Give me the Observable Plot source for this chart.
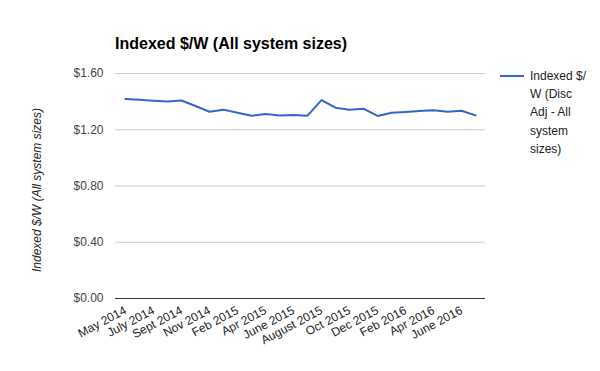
<!DOCTYPE html>
<html>
<head>
<meta charset="utf-8">
<script src="https://cdn.jsdelivr.net/npm/d3@7"></script>
<script src="https://cdn.jsdelivr.net/npm/@observablehq/plot@0.6"></script>
<style>
  html, body { margin: 0; padding: 0; background: #fff; }
  #wrap { position: relative; width: 600px; height: 371px; font-family: "Liberation Sans", Arial, sans-serif; }
  #title { position: absolute; left: 115px; top: 35px; font-size: 16px; font-weight: bold; color: #000; white-space: nowrap; }
  #ylabel { position: absolute; left: 37px; top: 190px; transform: translate(-50%, -50%) rotate(-90deg); font-size: 12px; font-style: italic; color: #222; white-space: nowrap; }
  #legend { position: absolute; left: 500px; top: 67px; font-size: 12px; color: #222; }
  #legend .sw { position: absolute; left: 0; top: 8px; width: 24px; height: 2px; background: #3366cc; }
  #legend .tx { position: absolute; left: 30px; top: 0; width: 70px; line-height: 18.2px; }
  svg { position: absolute; left: 0; top: 0; }
</style>
</head>
<body>
<div id="wrap">
  <div id="title">Indexed $/W (All system sizes)</div>
  <div id="ylabel">Indexed $/W (All system sizes)</div>
  <div id="legend"><div class="sw"></div><div class="tx">Indexed $/<br>W (Disc<br>Adj - All<br>system<br>sizes)</div></div>
</div>
<script>
const months = ["May 2014","June 2014","July 2014","Aug 2014","Sept 2014","Oct 2014","Nov 2014","Dec 2014","Feb 2015","Mar 2015","Apr 2015","May 2015","June 2015","July 2015","August 2015","Sept 2015","Oct 2015","Nov 2015","Dec 2015","Jan 2016","Feb 2016","Mar 2016","Apr 2016","May 2016","June 2016","July 2016"];
const values = [1.418,1.413,1.406,1.401,1.408,1.369,1.328,1.343,1.321,1.300,1.312,1.302,1.305,1.300,1.411,1.357,1.343,1.350,1.298,1.321,1.326,1.333,1.338,1.328,1.335,1.302];
const xTickLabels = ["May 2014","July 2014","Sept 2014","Nov 2014","Feb 2015","Apr 2015","June 2015","August 2015","Oct 2015","Dec 2015","Feb 2016","Apr 2016","June 2016"];
const yTicks = [0, 0.4, 0.8, 1.2, 1.6];

const data = months.map((m, i) => ({month: m, value: values[i]}));

const chart = Plot.plot({
  width: 600,
  height: 371,
  marginLeft: 115,
  marginRight: 115,
  marginTop: 73,
  marginBottom: 73,
  style: {fontFamily: "'Liberation Sans', Arial, sans-serif", fontSize: "12px", background: "transparent"},
  x: {type: "point", domain: months, padding: 0.5, label: null},
  y: {domain: [0, 1.6], label: null},
  marks: [
    Plot.gridY(yTicks, {stroke: "#cccccc", strokeOpacity: 1}),
    Plot.axisY(yTicks, {tickFormat: d => "$" + d.toFixed(2), tickSize: 0, tickPadding: 12, fill: "#444", label: null}),
    Plot.axisX(xTickLabels, {tickSize: 0, tickRotate: -28, tickPadding: 11, fill: "#222", label: null}),
    Plot.ruleY([0], {stroke: "#333", strokeWidth: 1}),
    Plot.line(data, {x: "month", y: "value", stroke: "#3366cc", strokeWidth: 2})
  ]
});
document.getElementById("wrap").appendChild(chart);
</script>
</body>
</html>
